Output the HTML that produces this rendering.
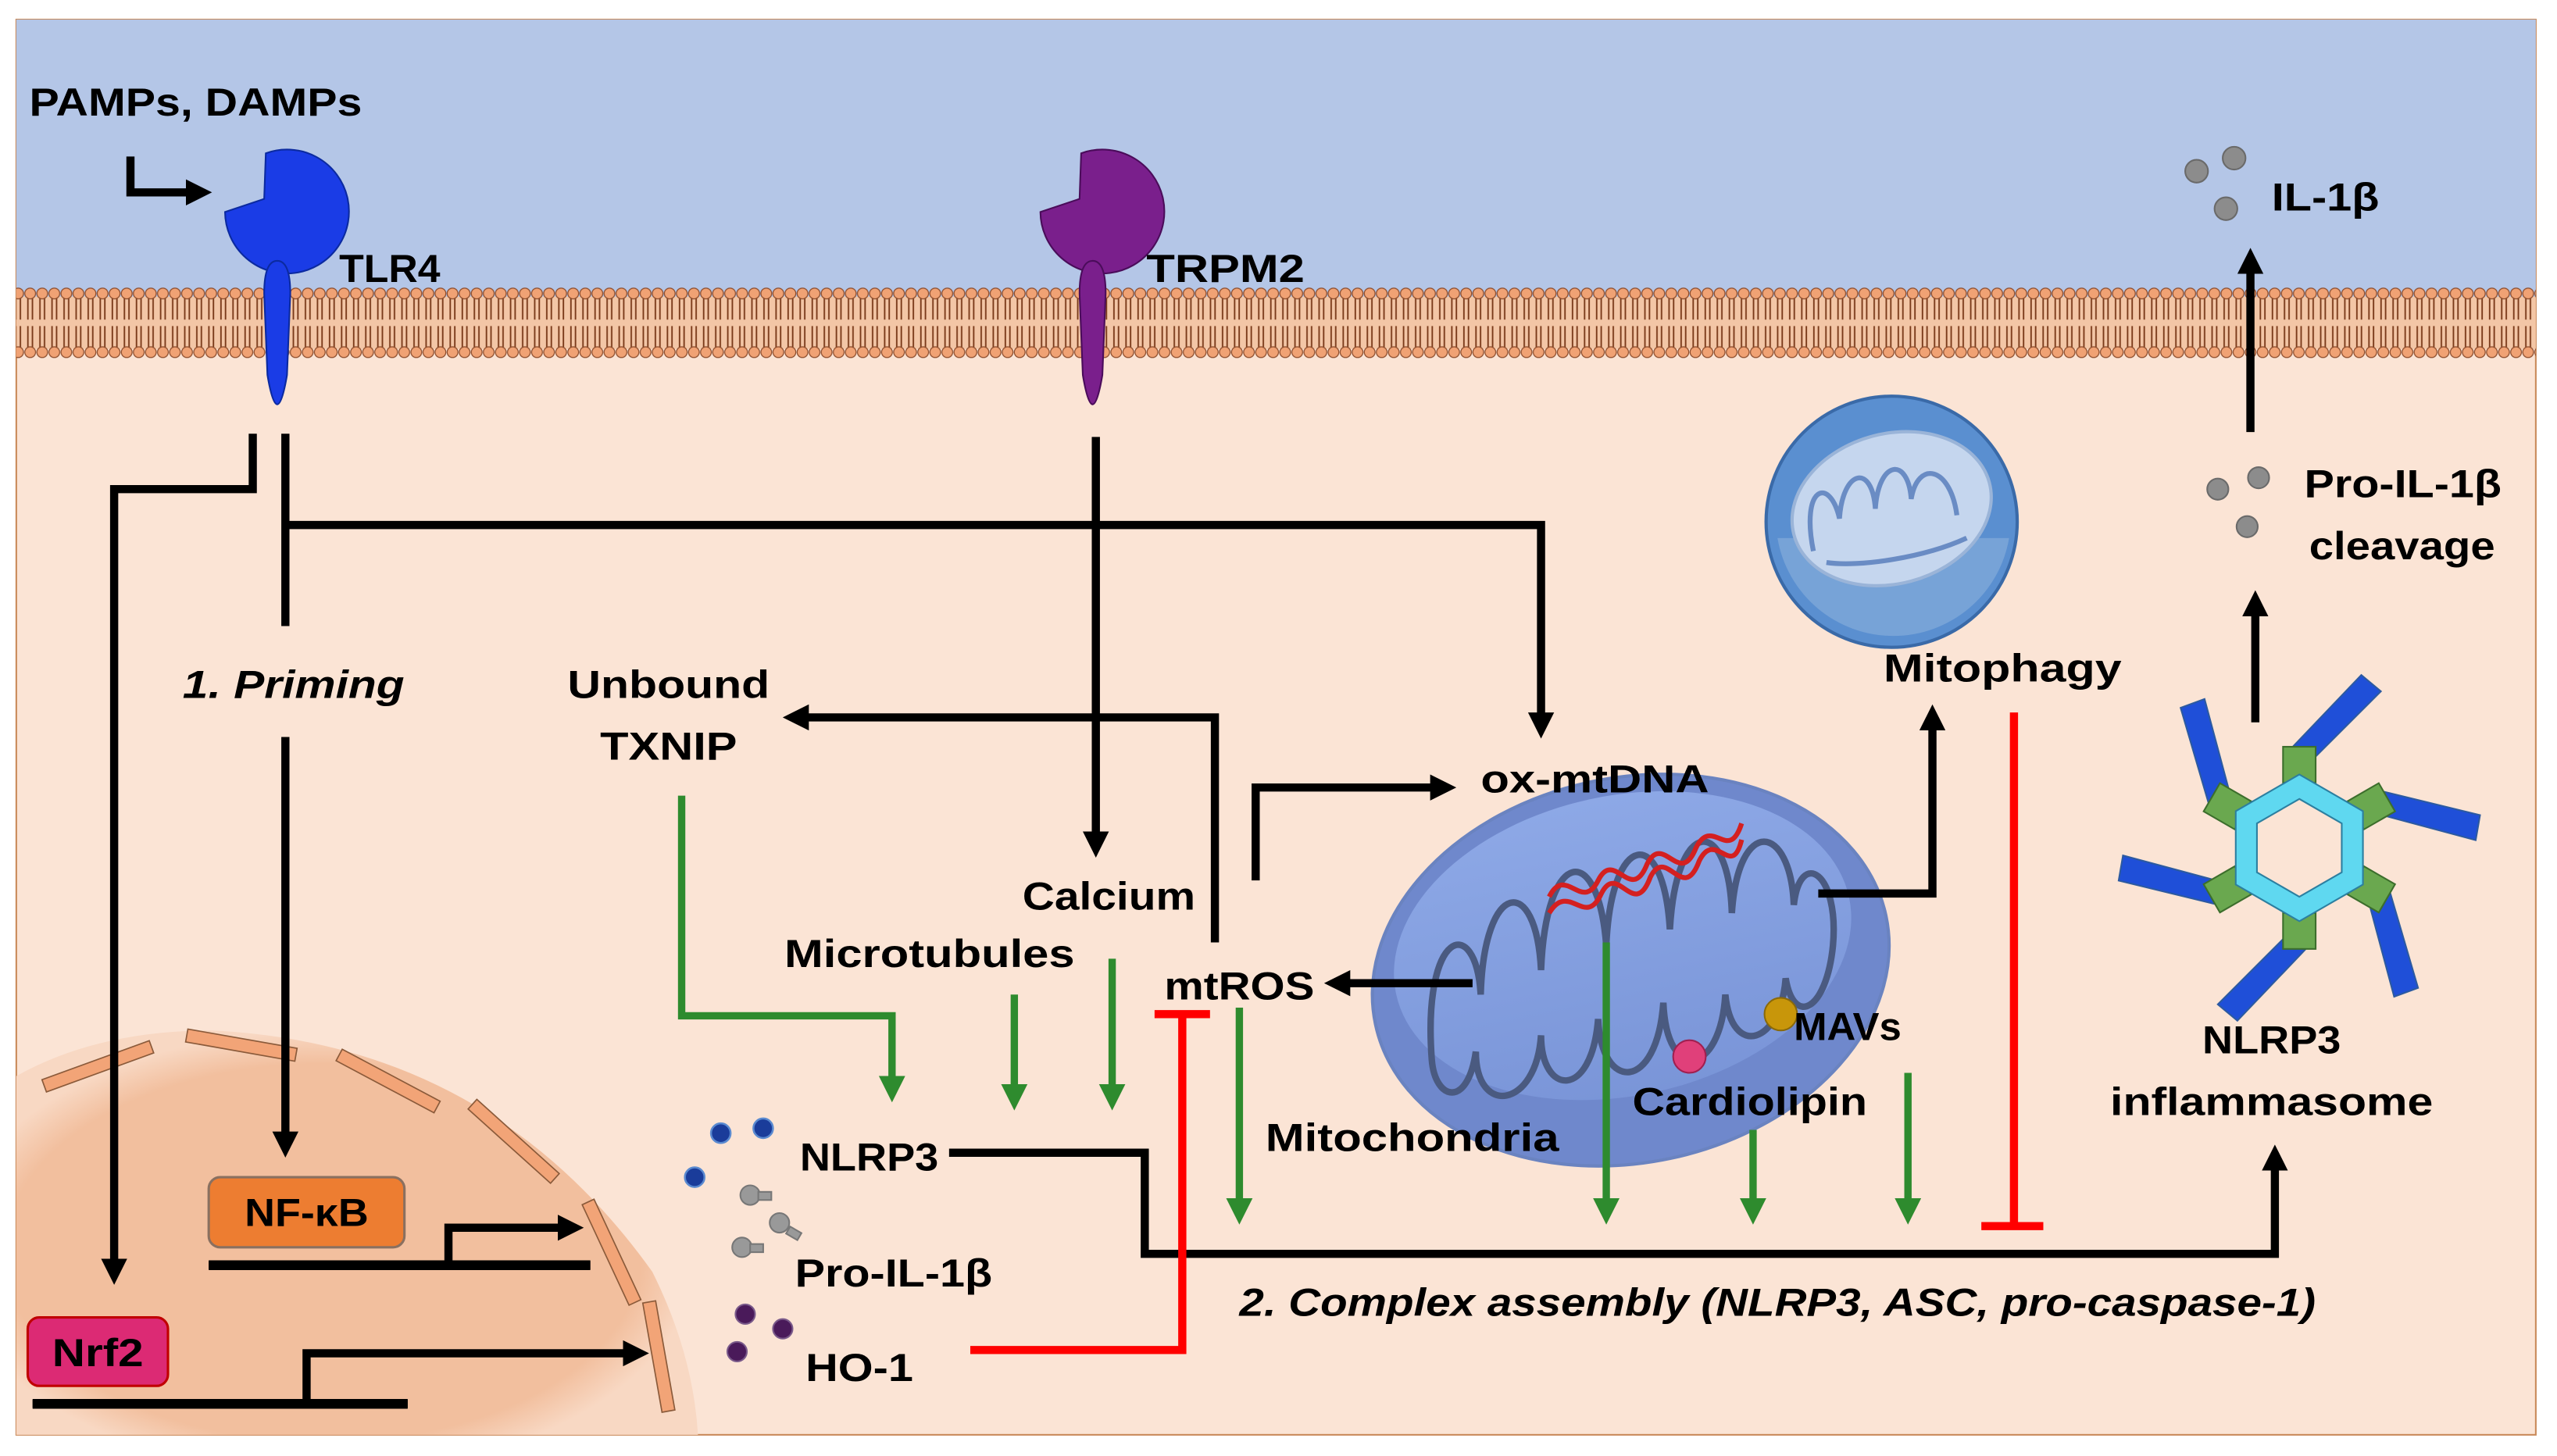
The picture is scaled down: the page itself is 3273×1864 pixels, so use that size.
<!DOCTYPE html>
<html><head><meta charset="utf-8"><style>
html,body{margin:0;padding:0;background:#fff;}
svg{display:block;}
text{font-family:"Liberation Sans",sans-serif;font-weight:bold;fill:#000;}
</style></head><body>
<svg width="3273" height="1864" viewBox="0 0 1568 893" preserveAspectRatio="none" xmlns="http://www.w3.org/2000/svg">
<defs>
<pattern id="lip" x="0" y="0" width="7.4" height="44" patternUnits="userSpaceOnUse">
<rect x="0" y="6" width="7.4" height="32" fill="#f3c6a6"/>
<path d="M2.3,6 L2.3,20 M5.1,6 L5.1,20 M2.3,24 L2.3,38 M5.1,24 L5.1,38" stroke="#7a3a1a" stroke-width="0.9" fill="none"/>
<circle cx="3.7" cy="4" r="3.3" fill="#f0a274" stroke="#8a4a2a" stroke-width="0.6"/>
<circle cx="3.7" cy="40" r="3.3" fill="#f0a274" stroke="#8a4a2a" stroke-width="0.6"/>
</pattern>
<radialGradient id="nuc" cx="0.45" cy="0.55" r="0.55">
<stop offset="0.85" stop-color="#f2bf9e"/><stop offset="1" stop-color="#f8d8c3"/>
</radialGradient>
<linearGradient id="mito" x1="0" y1="0" x2="0" y2="1">
<stop offset="0" stop-color="#8da8e6"/><stop offset="1" stop-color="#7a95d8"/>
</linearGradient>
<marker id="ab" viewBox="0 0 10 10" refX="5" refY="5" markerWidth="3.2" markerHeight="3.2" orient="auto-start-reverse" markerUnits="strokeWidth"><path d="M0,0 L10,5 L0,10z" fill="#000"/></marker>
<marker id="ag" viewBox="0 0 10 10" refX="5" refY="5" markerWidth="3.6" markerHeight="3.6" orient="auto" markerUnits="strokeWidth"><path d="M0,0 L10,5 L0,10z" fill="#2e8b2e"/></marker>
</defs>
<rect x="0" y="0" width="1568" height="893" fill="#fff"/>
<rect x="10" y="12" width="1545" height="868" fill="#fbe4d5" stroke="#c98a5a" stroke-width="1"/>
<rect x="10" y="12" width="1545" height="170" fill="#b4c6e7"/>
<rect x="10" y="176" width="1545" height="44" fill="url(#lip)"/>

<!-- nucleus -->
<path d="M10,660 Q60,632 130,632 Q300,640 400,780 Q425,830 428,880 L10,880 Z" fill="url(#nuc)"/>
<g fill="#f2a477" stroke="#8a5a3a" stroke-width="0.8">
<rect x="-35" y="-4" width="70" height="8" transform="translate(60,654) rotate(-20)"/>
<rect x="-34" y="-4" width="68" height="8" transform="translate(148,641) rotate(10)"/>
<rect x="-34" y="-4" width="68" height="8" transform="translate(238,663) rotate(28)"/>
<rect x="-34" y="-4" width="68" height="8" transform="translate(315,700) rotate(42)"/>
<rect x="-34" y="-4" width="68" height="8" transform="translate(375,768) rotate(65)"/>
<rect x="-34" y="-4" width="68" height="8" transform="translate(404,832) rotate(80)" />
</g>

<!-- PAMPs -->
<text x="18" y="71" font-size="24" textLength="204" lengthAdjust="spacingAndGlyphs">PAMPs, DAMPs</text>
<path d="M80,96 V118 H122" stroke="#000" stroke-width="5" fill="none" marker-end="url(#ab)"/>

<!-- TLR4 -->
<path d="M163,94 A38,38 0 1 1 138,130 L162,122 Z" fill="#1a3ce6" stroke="#0b2aa0" stroke-width="1"/>
<path d="M170,160 Q178,160 178,180 L176,230 Q173,248 170,248 Q167,248 164,230 L162,180 Q162,160 170,160Z" fill="#1a3ce6" stroke="#0b2aa0" stroke-width="1"/>
<text x="208" y="173" font-size="24" textLength="62" lengthAdjust="spacingAndGlyphs">TLR4</text>

<!-- TRPM2 -->
<path d="M663,94 A38,38 0 1 1 638,130 L662,122 Z" fill="#7a1f8c" stroke="#4a0c5a" stroke-width="1"/>
<path d="M670,160 Q678,160 678,180 L676,230 Q673,248 670,248 Q667,248 664,230 L662,180 Q662,160 670,160Z" fill="#7a1f8c" stroke="#4a0c5a" stroke-width="1"/>
<text x="703" y="173" font-size="24" textLength="97" lengthAdjust="spacingAndGlyphs">TRPM2</text>

<!-- IL-1b -->
<g fill="#8c8c8c" stroke="#6a6a6a" stroke-width="1">
<circle cx="1347" cy="105" r="7"/><circle cx="1370" cy="97" r="7"/><circle cx="1365" cy="128" r="7"/>
<circle cx="1360" cy="300" r="6.5"/><circle cx="1385" cy="293" r="6.5"/><circle cx="1378" cy="323" r="6.5"/>
</g>
<text x="1393" y="129" font-size="24" textLength="66" lengthAdjust="spacingAndGlyphs">IL-1β</text>
<text x="1413" y="305" font-size="24" textLength="121" lengthAdjust="spacingAndGlyphs">Pro-IL-1β</text>
<text x="1416" y="343" font-size="24" textLength="114" lengthAdjust="spacingAndGlyphs">cleavage</text>
<path d="M1380,265 V160" stroke="#000" stroke-width="5" fill="none" marker-end="url(#ab)"/>
<path d="M1383,443 V370" stroke="#000" stroke-width="5" fill="none" marker-end="url(#ab)"/>

<!-- inflammasome -->
<g transform="translate(1410,520)">
<g stroke="#2c5aa0" stroke-width="1" fill="#1f4fd8">
<g id="arm"><path d="M-4,-62 L38,-106 L50,-96 L8,-54 Z" /></g>
<use href="#arm" transform="rotate(60)"/><use href="#arm" transform="rotate(120)"/><use href="#arm" transform="rotate(180)"/><use href="#arm" transform="rotate(240)"/><use href="#arm" transform="rotate(300)"/>
</g>
<g fill="#6aa84f" stroke="#3c6e2c" stroke-width="1">
<g id="sq"><rect x="-10" y="-62" width="20" height="22"/></g>
<use href="#sq" transform="rotate(60)"/><use href="#sq" transform="rotate(120)"/><use href="#sq" transform="rotate(180)"/><use href="#sq" transform="rotate(240)"/><use href="#sq" transform="rotate(300)"/>
</g>
<path d="M0,-45 L39,-22.5 L39,22.5 L0,45 L-39,22.5 L-39,-22.5Z M0,-30 L26,-15 L26,15 L0,30 L-26,15 L-26,-15Z" fill="#5fd8f0" fill-rule="evenodd" stroke="#2c7fa0" stroke-width="1"/>
</g>
<text x="1393" y="646" font-size="24" text-anchor="middle" textLength="85" lengthAdjust="spacingAndGlyphs">NLRP3</text>
<text x="1393" y="684" font-size="24" text-anchor="middle" textLength="198" lengthAdjust="spacingAndGlyphs">inflammasome</text>

<!-- mitophagy -->
<circle cx="1160" cy="320" r="77" fill="#5a8fd0" stroke="#3a6aa8" stroke-width="2"/>
<path d="M1090,330 A72,72 0 0 0 1232,330 Z" fill="#8ab0dc" opacity="0.6"/>
<ellipse cx="1160" cy="312" rx="62" ry="46" transform="rotate(-15 1160 312)" fill="#c5d6ee" stroke="#9ab4d8" stroke-width="2"/>
<path d="M1112,338 C1104,298 1122,292 1128,318 C1130,288 1148,284 1150,312 C1152,282 1170,280 1172,306 C1176,282 1196,286 1200,316 M1120,345 C1140,348 1180,342 1206,330" stroke="#6a8cc4" stroke-width="3" fill="none"/>
<text x="1228" y="418" font-size="24" text-anchor="middle" textLength="146" lengthAdjust="spacingAndGlyphs">Mitophagy</text>
<path d="M1235,437 V752 M1215,752 H1253" stroke="#ff0000" stroke-width="5" fill="none"/>

<!-- big mitochondrion -->
<ellipse cx="1000" cy="595" rx="160" ry="118" transform="rotate(-12 1000 595)" fill="#6f88cc" stroke="#6a83c0" stroke-width="2"/>
<ellipse cx="995" cy="580" rx="142" ry="92" transform="rotate(-12 995 580)" fill="url(#mito)"/>
<path d="M878,650 C872,570 905,560 908,610 C910,540 942,535 945,595 C948,520 980,515 985,580 C988,510 1020,505 1024,570 C1028,500 1060,500 1062,560 C1066,500 1098,505 1100,555 C1104,520 1128,535 1124,580 C1120,620 1100,630 1095,600 C1092,640 1062,650 1058,610 C1055,660 1022,665 1020,615 C1016,670 982,670 980,625 C976,675 945,672 945,635 C942,680 905,685 905,645 C900,680 880,675 878,650 Z" stroke="#4a5a80" stroke-width="4" fill="none"/>
<path d="M950,550 C960,530 970,560 980,540 C990,520 1000,555 1010,530 C1020,510 1030,545 1040,520 C1050,500 1060,530 1068,505" stroke="#d42020" stroke-width="3" fill="none"/>
<path d="M950,560 C962,540 972,570 982,548 C992,528 1002,565 1012,538 C1022,518 1032,555 1042,528 C1052,508 1062,540 1068,515" stroke="#d42020" stroke-width="3" fill="none"/>
<circle cx="1036" cy="648" r="10" fill="#e0407a" stroke="#a02050"/>
<circle cx="1092" cy="622" r="10" fill="#c8960a" stroke="#8a6a0a"/>
<text x="1133" y="638" font-size="24" text-anchor="middle" textLength="66" lengthAdjust="spacingAndGlyphs">MAVs</text>
<text x="1073" y="684" font-size="24" text-anchor="middle" textLength="144" lengthAdjust="spacingAndGlyphs">Cardiolipin</text>
<text x="866" y="706" font-size="24" text-anchor="middle" textLength="180" lengthAdjust="spacingAndGlyphs">Mitochondria</text>
<text x="978" y="486" font-size="24" text-anchor="middle" textLength="140" lengthAdjust="spacingAndGlyphs">ox-mtDNA</text>
<text x="760" y="613" font-size="24" text-anchor="middle" textLength="92" lengthAdjust="spacingAndGlyphs">mtROS</text>
<text x="680" y="558" font-size="24" text-anchor="middle" textLength="106" lengthAdjust="spacingAndGlyphs">Calcium</text>
<text x="570" y="593" font-size="24" text-anchor="middle" textLength="178" lengthAdjust="spacingAndGlyphs">Microtubules</text>
<text x="410" y="428" font-size="24" text-anchor="middle" textLength="124" lengthAdjust="spacingAndGlyphs">Unbound</text>
<text x="410" y="466" font-size="24" text-anchor="middle" textLength="84" lengthAdjust="spacingAndGlyphs">TXNIP</text>
<text x="180" y="428" font-size="24" font-style="italic" text-anchor="middle" textLength="136" lengthAdjust="spacingAndGlyphs">1. Priming</text>
<text x="1090" y="807" font-size="24" font-style="italic" text-anchor="middle" textLength="660" lengthAdjust="spacingAndGlyphs">2. Complex assembly (NLRP3, ASC, pro-caspase-1)</text>

<!-- black connectors -->
<g stroke="#000" stroke-width="5" fill="none">
<path d="M155,266 V300 H70 V780" marker-end="url(#ab)"/>
<path d="M175,266 V384"/>
<path d="M175,322 H945 V445" marker-end="url(#ab)"/>
<path d="M175,452 V702" marker-end="url(#ab)"/>
<path d="M672,268 V518" marker-end="url(#ab)"/>
<path d="M745,578 V440 H488" marker-end="url(#ab)"/>
<path d="M770,540 V483 H885" marker-end="url(#ab)"/>
<path d="M1115,548 H1185 V440" marker-end="url(#ab)"/>
<path d="M903,603 H820" marker-end="url(#ab)"/>
<path d="M582,707 H702 V769 H1395 V710" marker-end="url(#ab)"/>
<path d="M128,776 H362 M275,776 V753 H350" marker-end="url(#ab)"/>
<path d="M20,861 H250 M188,861 V830 H390" marker-end="url(#ab)"/>
</g>
<path d="M128,776 H362" stroke="#000" stroke-width="6"/>
<path d="M20,861 H250" stroke="#000" stroke-width="6"/>

<!-- green -->
<g stroke="#2e8b2e" stroke-width="4.5" fill="none">
<path d="M418,488 V623 H547 V668" marker-end="url(#ag)"/>
<path d="M622,610 V673" marker-end="url(#ag)"/>
<path d="M682,588 V673" marker-end="url(#ag)"/>
<path d="M760,618 V743" marker-end="url(#ag)"/>
<path d="M985,578 V743" marker-end="url(#ag)"/>
<path d="M1075,693 V743" marker-end="url(#ag)"/>
<path d="M1170,658 V743" marker-end="url(#ag)"/>
</g>

<!-- red HO-1 -->
<path d="M595,828 H725 V622 M708,622 H742" stroke="#ff0000" stroke-width="5" fill="none"/>

<!-- NF-kB / Nrf2 boxes -->
<rect x="128" y="722" width="120" height="43" rx="7" fill="#ed7d31" stroke="#8a7060" stroke-width="1.5"/>
<text x="188" y="752" font-size="24" text-anchor="middle" textLength="76" lengthAdjust="spacingAndGlyphs">NF-κB</text>
<rect x="17" y="808" width="86" height="42" rx="7" fill="#dc2a74" stroke="#c00000" stroke-width="1.5"/>
<text x="60" y="838" font-size="24" text-anchor="middle" textLength="56" lengthAdjust="spacingAndGlyphs">Nrf2</text>

<!-- molecules -->
<g fill="#1a3c9a" stroke="#5a8ad0" stroke-width="1.2">
<circle cx="426" cy="722" r="6"/><circle cx="442" cy="695" r="6"/><circle cx="468" cy="692" r="6"/>
</g>
<g fill="#999" stroke="#777" stroke-width="1">
<circle cx="460" cy="733" r="6"/><rect x="465" y="731" width="8" height="5"/>
<circle cx="455" cy="765" r="6"/><rect x="460" y="763" width="8" height="5"/>
<circle cx="478" cy="750" r="6"/><rect x="483" y="754" width="8" height="5" transform="rotate(30 487 756)"/>
</g>
<g fill="#4a1a5a" stroke="#7a5a8a" stroke-width="1">
<circle cx="457" cy="806" r="6"/><circle cx="480" cy="815" r="6"/><circle cx="452" cy="829" r="6"/>
</g>
<text x="533" y="718" font-size="24" text-anchor="middle" textLength="85" lengthAdjust="spacingAndGlyphs">NLRP3</text>
<text x="548" y="789" font-size="24" text-anchor="middle" textLength="121" lengthAdjust="spacingAndGlyphs">Pro-IL-1β</text>
<text x="527" y="847" font-size="24" text-anchor="middle" textLength="66" lengthAdjust="spacingAndGlyphs">HO-1</text>
</svg>
</body></html>
